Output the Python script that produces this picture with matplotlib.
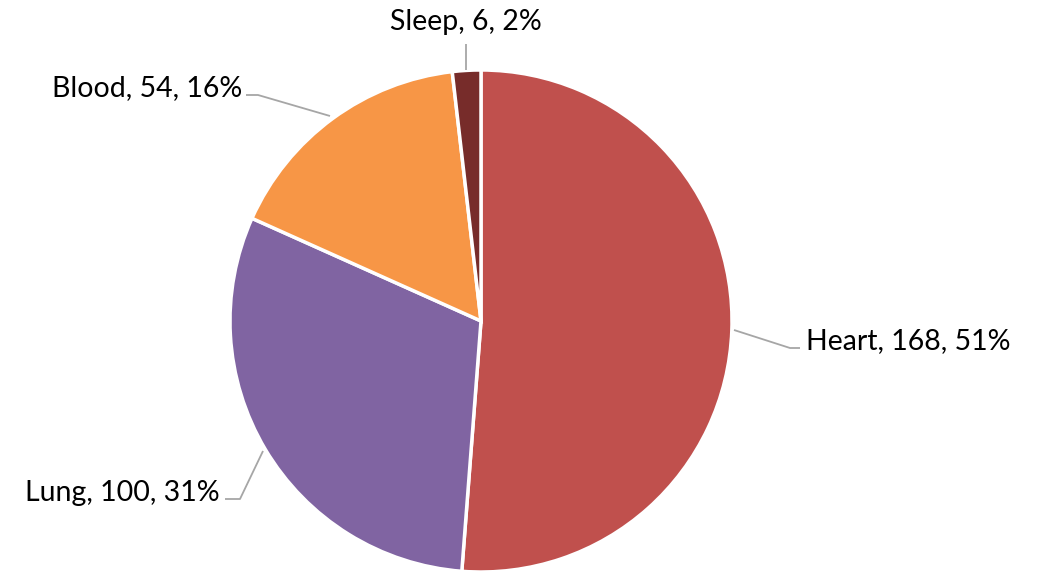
import matplotlib
matplotlib.use("Agg")
import matplotlib.pyplot as plt

categories = ["Heart", "Lung", "Blood", "Sleep"]
values = [168, 100, 54, 6]
percents = [51, 31, 16, 2]
colors = ["#C0504D", "#8064A2", "#F79646", "#772C2A"]

W, H = 1038, 571
fig = plt.figure(figsize=(W / 100, H / 100), dpi=100)
ax = fig.add_axes([0, 0, 1, 1])

cx, cy, r = 481, H - 321, 251
wedges, _ = ax.pie(values, colors=colors, startangle=90, counterclock=False,
                   center=(cx, cy), radius=r,
                   wedgeprops=dict(edgecolor="white", linewidth=2.5))
ax.set_xlim(0, W)
ax.set_ylim(0, H)
ax.set_aspect("equal")
ax.axis("off")

labels = [f"{c}, {v}, {p}%" for c, v, p in zip(categories, values, percents)]

# leader lines (pixel coords from top-left) and label anchors
leaders = [
    [(734, 330), (790, 348), (800, 348)],
    [(263, 451), (240, 499), (225, 499)],
    [(330, 116), (258, 95), (246, 95)],
    [(466, 70), (466, 44)],
]
anchors = [
    (806, 341, "left"),
    (220, 493, "right"),
    (242, 88, "right"),
    (466, 22, "center"),
]
for pts, (tx, ty, ha), lab in zip(leaders, anchors, labels):
    xs = [p[0] for p in pts]
    ys = [H - p[1] for p in pts]
    ax.plot(xs, ys, color="#A6A6A6", lw=1.3, solid_capstyle="butt")
    ax.text(tx, H - ty, lab, ha=ha, va="center", fontsize=20.5,
            family=["Lato", "DejaVu Sans"], color="black")

fig.savefig("out.png", dpi=100, facecolor="white")
